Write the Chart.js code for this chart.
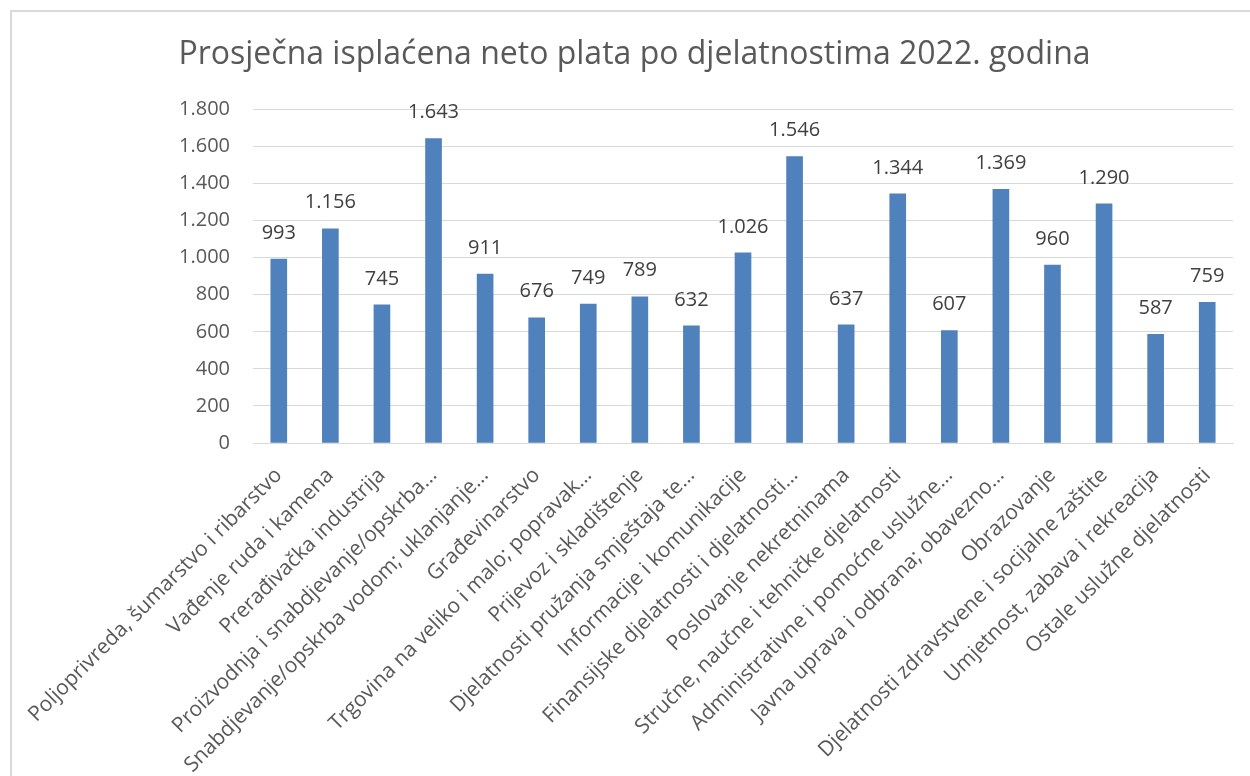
<!DOCTYPE html>
<html>
<head>
<meta charset="utf-8">
<script src="https://cdn.jsdelivr.net/npm/chart.js@4"></script>
<style>
  html, body { margin: 0; padding: 0; background: #fff; overflow: hidden; }
  #wrap { position: relative; width: 1250px; height: 776px; }
  #frame { position: absolute; left: 10px; top: 10px; width: 1260px; height: 790px;
           border: 2px solid #d9d9d9; box-sizing: border-box; pointer-events: none; }
</style>
</head>
<body>
<div id="wrap">
  <canvas id="chart" width="1250" height="776"></canvas>
  <div id="frame"></div>
</div>
<script>
// kategorije (djelatnosti)
let labels = [
  "Poljoprivreda, šumarstvo i ribarstvo",
  "Vađenje ruda i kamena",
  "Prerađivačka industrija",
  "Proizvodnja i snabdjevanje/opskrba…",
  "Snabdjevanje/opskrba vodom; uklanjanje…",
  "Građevinarstvo",
  "Trgovina na veliko i malo; popravak…",
  "Prijevoz i skladištenje",
  "Djelatnosti pružanja smještaja te…",
  "Informacije i komunikacije",
  "Finansijske djelatnosti i djelatnosti…",
  "Poslovanje nekretninama",
  "Stručne, naučne i tehničke djelatnosti",
  "Administrativne i pomoćne uslužne…",
  "Javna uprava i odbrana; obavezno…",
  "Obrazovanje",
  "Djelatnosti zdravstvene i socijalne zaštite",
  "Umjetnost, zabava i rekreacija",
  "Ostale uslužne djelatnosti"
];

// prosječna neto plata
let plata = [993, 1156, 745, 1643, 911, 676, 749, 789, 632, 1026, 1546, 637, 1344, 607, 1369, 960, 1290, 587, 759];

// y osa
let yMin = 0;
let yMax = 1800;
let yStep = 200;

function fmt(v) {
  return String(v).replace(/\B(?=(\d{3})+(?!\d))/g, '.');
}

// vrijednosti iznad stubaca
const valueLabels = {
  id: 'valueLabels',
  afterDatasetsDraw(chart) {
    const ctx = chart.ctx;
    ctx.save();
    ctx.font = '20px "Open Sans"';
    ctx.fillStyle = '#404040';
    ctx.textAlign = 'center';
    ctx.textBaseline = 'middle';
    chart.getDatasetMeta(0).data.forEach((bar, i) => {
      ctx.fillText(fmt(plata[i]), bar.x, bar.y - 26);
    });
    ctx.restore();
  }
};

let ctx = document.getElementById('chart').getContext('2d');
let chart = new Chart(ctx, {
  type: 'bar',
  data: {
    labels: labels,
    datasets: [{
      data: plata,
      backgroundColor: '#4f81bd',
      barThickness: 16
    }]
  },
  plugins: [valueLabels],
  options: {
    responsive: false,
    animation: false,
    layout: { padding: { left: 36, right: 17, top: 0, bottom: 0 } },
    plugins: {
      legend: { display: false },
      tooltip: { enabled: false },
      title: {
        display: true,
        text: 'Prosječna isplaćena neto plata po djelatnostima 2022. godina',
        color: '#595959',
        font: { family: 'Open Sans', size: 32, weight: 'normal', lineHeight: 1.2 },
        padding: { top: 36, bottom: 35 }
      }
    },
    scales: {
      x: {
        grid: { display: false },
        border: { display: true, color: '#d9d9d9', width: 1 },
        ticks: {
          color: '#595959',
          font: { family: 'Open Sans', size: 21 },
          minRotation: 45,
          maxRotation: 45,
          autoSkip: false,
          padding: 12
        },
        afterFit(axis) { axis.height = 333; }
      },
      y: {
        min: yMin,
        max: yMax,
        grid: { color: '#d9d9d9', drawTicks: false },
        border: { display: false },
        ticks: {
          stepSize: yStep,
          color: '#595959',
          font: { family: 'Open Sans', size: 20 },
          padding: 23,
          callback: v => fmt(v)
        },
        afterFit(axis) { axis.width = 217; }
      }
    }
  }
});
</script>
</body>
</html>
